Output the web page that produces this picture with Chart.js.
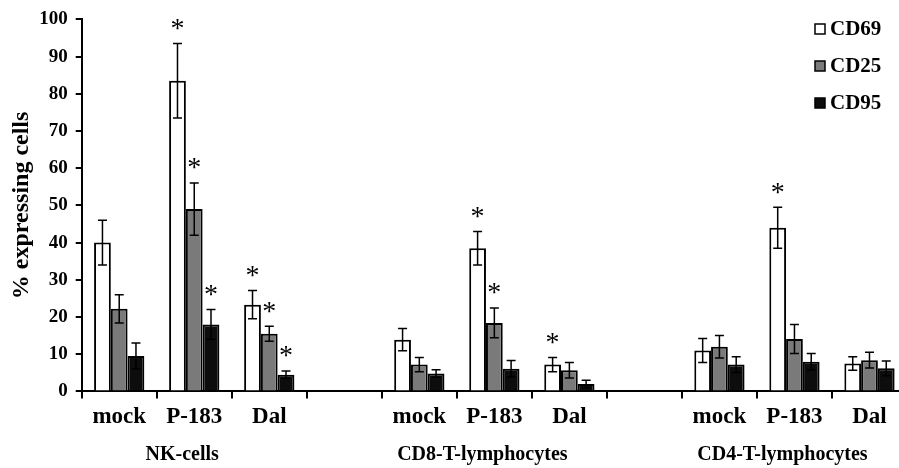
<!DOCTYPE html>
<html>
<head>
<meta charset="utf-8">
<script src="https://cdn.jsdelivr.net/npm/chart.js@4"></script>
<style>
  html, body { margin: 0; padding: 0; background: #fff; overflow: hidden; }
  #wrap { width: 899px; height: 468px; overflow: hidden; }
</style>
</head>
<body>
<div id="wrap"><canvas id="chart" width="908" height="468"></canvas></div>
<script>
// categories (empty slots are the gaps between cell groups)
const categories = ['mock', 'P-183', 'Dal', '', 'mock', 'P-183', 'Dal', '', 'mock', 'P-183', 'Dal'];
const groups = ['NK-cells', 'CD8-T-lymphocytes', 'CD4-T-lymphocytes'];

// mean % expressing cells
const cd69 = [40, 83.5, 23.3, null, 13.9, 38.5, 7.2, null, 11, 44, 7.5];
const cd25 = [22.2, 49, 15.5, null, 7.2, 18.4, 5.7, null, 12, 14.1, 8.4];
const cd95 = [9.5, 18, 4.5, null, 4.8, 6.1, 2, null, 7.2, 8, 6.2];

// error (+/-)
const cd69Err = [6, 10, 3.8, null, 3, 4.5, 1.9, null, 3.2, 5.5, 1.8];
const cd25Err = [3.8, 7, 2, null, 1.9, 4, 2.1, null, 3, 3.9, 2.1];
const cd95Err = [3.5, 4, 1, null, 1, 2.2, 1, null, 2.1, 2.2, 2];

// significance markers
const cd69Star = [0, 1, 1, 0, 0, 1, 1, 0, 0, 1, 0];
const cd25Star = [0, 1, 1, 0, 0, 1, 0, 0, 0, 0, 0];
const cd95Star = [0, 1, 1, 0, 0, 0, 0, 0, 0, 0, 0];

const yTicks = [0, 10, 20, 30, 40, 50, 60, 70, 80, 90, 100];

const SERIF = '"Liberation Serif", "DejaVu Serif", serif';
const errs = [cd69Err, cd25Err, cd95Err];
const stars = [cd69Star, cd25Star, cd95Star];

const extras = {
  id: 'extras',
  afterDatasetsDraw(chart) {
    const ctx = chart.ctx;
    const y = chart.scales.y;
    const x = chart.scales.x;
    ctx.save();
    chart.data.datasets.forEach((ds, di) => {
      const meta = chart.getDatasetMeta(di);
      meta.data.forEach((bar, i) => {
        const v = ds.data[i];
        if (v == null) return;
        const e = errs[di][i];
        const top = y.getPixelForValue(v + e);
        const bot = y.getPixelForValue(v - e);
        ctx.strokeStyle = '#000';
        ctx.lineWidth = 1.5;
        ctx.beginPath();
        ctx.moveTo(bar.x, top); ctx.lineTo(bar.x, bot);
        ctx.moveTo(bar.x - 4.5, top); ctx.lineTo(bar.x + 4.5, top);
        ctx.moveTo(bar.x - 4.5, bot); ctx.lineTo(bar.x + 4.5, bot);
        ctx.stroke();
        if (stars[di][i]) {
          ctx.fillStyle = '#000';
          ctx.font = '28px ' + SERIF;
          ctx.textAlign = 'center';
          ctx.textBaseline = 'middle';
          ctx.fillText('*', bar.x, top - 14);
        }
      });
    });
    // group labels
    ctx.fillStyle = '#000';
    ctx.font = 'bold 20px ' + SERIF;
    ctx.textAlign = 'center';
    ctx.textBaseline = 'middle';
    groups.forEach((g, k) => {
      const cx = x.getPixelForValue(k * 4 + 1);
      ctx.fillText(g, cx - 12, 455);
    });
    // legend
    chart.data.datasets.forEach((ds, di) => {
      const ly = 29 + di * 37;
      ctx.fillStyle = ds.backgroundColor;
      ctx.fillRect(815, ly - 5, 10, 10);
      ctx.strokeStyle = '#000';
      ctx.lineWidth = 1.5;
      ctx.strokeRect(815, ly - 5, 10, 10);
      ctx.fillStyle = '#000';
      ctx.font = 'bold 21px ' + SERIF;
      ctx.textAlign = 'left';
      ctx.fillText(ds.label, 830, ly + 1);
    });
    ctx.restore();
  }
};

new Chart(document.getElementById('chart'), {
  type: 'bar',
  data: {
    labels: categories,
    datasets: [
      { label: 'CD69', data: cd69, backgroundColor: '#ffffff' },
      { label: 'CD25', data: cd25, backgroundColor: '#7a7a7a' },
      { label: 'CD95', data: cd95, backgroundColor: '#0d0d0d' }
    ]
  },
  options: {
    responsive: false,
    devicePixelRatio: 1,
    animation: false,
    datasets: {
      bar: { borderColor: '#000', borderWidth: 2, barPercentage: 1, categoryPercentage: 0.67, skipNull: false }
    },
    layout: { padding: { top: 11, right: 1, bottom: 32, left: 12 } },
    plugins: { legend: { display: false }, tooltip: { enabled: false } },
    scales: {
      x: {
        grid: { offset: true, drawOnChartArea: false, tickLength: 7, color: '#000', lineWidth: 2 },
        border: { color: '#000', width: 2 },
        ticks: { color: '#000', font: { family: SERIF, size: 23, weight: 'bold' }, padding: 5, maxRotation: 0, autoSkip: false }
      },
      y: {
        min: 0, max: 100,
        afterBuildTicks(axis) { axis.ticks = yTicks.map(v => ({ value: v })); },
        grid: { drawOnChartArea: false, tickLength: 6, color: '#000', lineWidth: 2 },
        border: { color: '#000', width: 2 },
        ticks: { color: '#000', font: { family: SERIF, size: 19, weight: 'bold' }, padding: 8 },
        title: { display: true, text: '% expressing cells', color: '#000', font: { family: SERIF, size: 24, weight: 'bold', lineHeight: 0.8 }, padding: 0 }
      }
    }
  },
  plugins: [extras]
});
</script>
</body>
</html>
